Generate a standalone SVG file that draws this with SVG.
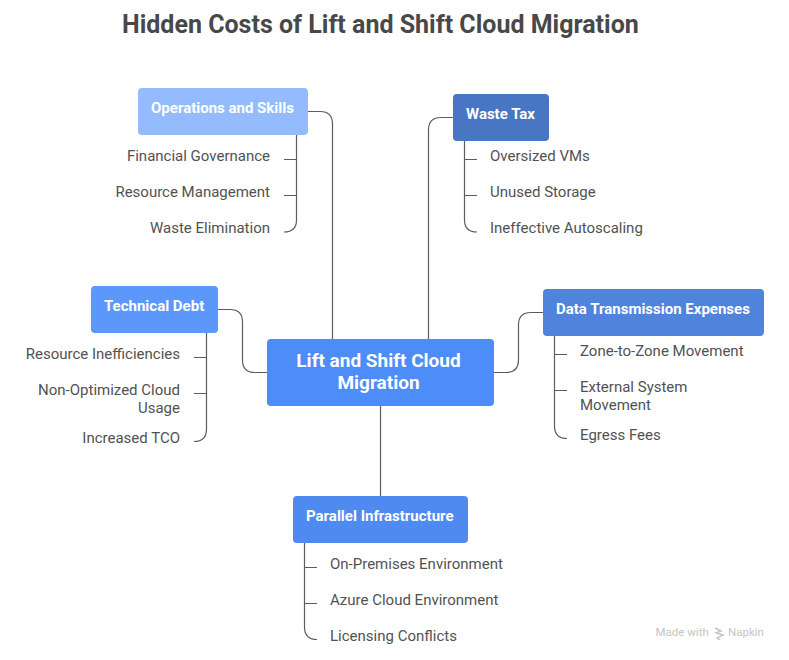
<svg xmlns="http://www.w3.org/2000/svg" width="789" height="660" viewBox="0 0 789 660">
<style>
text{font-family:Roboto,"Liberation Sans",sans-serif}
.t{font-size:25px;font-weight:700;fill:#484848}
.h{font-size:15px;font-weight:700;fill:#fff}
.c{font-size:19px;font-weight:700;fill:#fff;text-anchor:middle}
.i{font-size:15px;fill:#525252}
.e{text-anchor:end}
.l{fill:none;stroke:#5c5c5c;stroke-width:1.2}
.m{font-size:11.500px;fill:#c4c4c4}
</style>
<rect width="789" height="660" fill="#fff"/>
<text class="t" x="122" y="33">Hidden Costs of Lift and Shift Cloud Migration</text>
<g id="connectors">
<path class="l" d="M308 111.500H320Q332.500 111.500 332.500 124V339"/>
<path class="l" d="M453 117.500H441Q428.500 117.500 428.500 130V339"/>
<path class="l" d="M218 309.500H230Q242.500 309.500 242.500 322V360Q242.500 372.500 255 372.500H267"/>
<path class="l" d="M543 312.500H531Q518.500 312.500 518.500 325V360Q518.500 372.500 506 372.500H494"/>
<path class="l" d="M380.500 406V496"/>
<path class="l" d="M296.500 135V220Q296.500 232 284 232M296.500 159.500H284M296.500 195.500H284"/>
<path class="l" d="M464.500 141V220Q464.500 232 477 232M464.500 159.500H477M464.500 195.500H477"/>
<path class="l" d="M206.500 333V429Q206.500 441.500 194 441.500M206.500 357.500H194M206.500 393.500H194"/>
<path class="l" d="M554.500 336V426Q554.500 438.500 567 438.500M554.500 354.500H567M554.500 390.500H567"/>
<path class="l" d="M304.500 543V627Q304.500 639.500 317 639.500M304.500 567.500H317M304.500 603.500H317"/>
</g>
<g id="node-center"><rect x="267" y="339" width="227" height="67" rx="4" fill="#4c8dfa"/>
<text class="c"><tspan x="378.500" y="367">Lift and Shift Cloud</tspan><tspan x="378.500" y="389">Migration</tspan></text></g>
<g id="node-ops"><rect x="138" y="88" width="170" height="47" rx="4" fill="#94bbfd"/>
<text class="h" x="151" y="112.500">Operations and Skills</text></g>
<g id="node-ops-items"><text class="i e" x="270" y="160.500">Financial Governance</text><text class="i e" x="270" y="196.500">Resource Management</text><text class="i e" x="270" y="232.500">Waste Elimination</text></g>
<g id="node-waste"><rect x="453" y="94" width="96" height="47" rx="4" fill="#4876c5"/>
<text class="h" x="466" y="118.500">Waste Tax</text></g>
<g id="node-waste-items"><text class="i" x="490" y="160.500">Oversized VMs</text><text class="i" x="490" y="196.500">Unused Storage</text><text class="i" x="490" y="232.500">Ineffective Autoscaling</text></g>
<g id="node-debt"><rect x="91" y="286" width="127" height="47" rx="4" fill="#5c98fb"/>
<text class="h" x="104" y="310.500">Technical Debt</text></g>
<g id="node-debt-items"><text class="i e" x="180" y="358.500">Resource Inefficiencies</text><text class="i e" x="180" y="394.500">Non-Optimized Cloud</text><text class="i e" x="180" y="412.500">Usage</text><text class="i e" x="180" y="442.500">Increased TCO</text></g>
<g id="node-data"><rect x="543" y="289" width="221" height="47" rx="4" fill="#4f83dc"/>
<text class="h" x="556" y="313.500">Data Transmission Expenses</text></g>
<g id="node-data-items"><text class="i" x="580" y="355.500">Zone-to-Zone Movement</text><text class="i" x="580" y="391.500">External System</text><text class="i" x="580" y="409.500">Movement</text><text class="i" x="580" y="439.500">Egress Fees</text></g>
<g id="node-parallel"><rect x="293" y="496" width="175" height="47" rx="4" fill="#4e8aef"/>
<text class="h" x="306" y="520.500">Parallel Infrastructure</text></g>
<g id="node-parallel-items"><text class="i" x="330" y="568.500">On-Premises Environment</text><text class="i" x="330" y="604.500">Azure Cloud Environment</text><text class="i" x="330" y="640.500">Licensing Conflicts</text></g>
<g id="watermark"><text class="m" x="655.500" y="636">Made with</text>
<path d="M715 628l6 3-5 2 7 2-6 3 3 2" fill="none" stroke="#c4c4c4" stroke-width="1.500"/>
<text class="m" x="728" y="636">Napkin</text></g>
</svg>
